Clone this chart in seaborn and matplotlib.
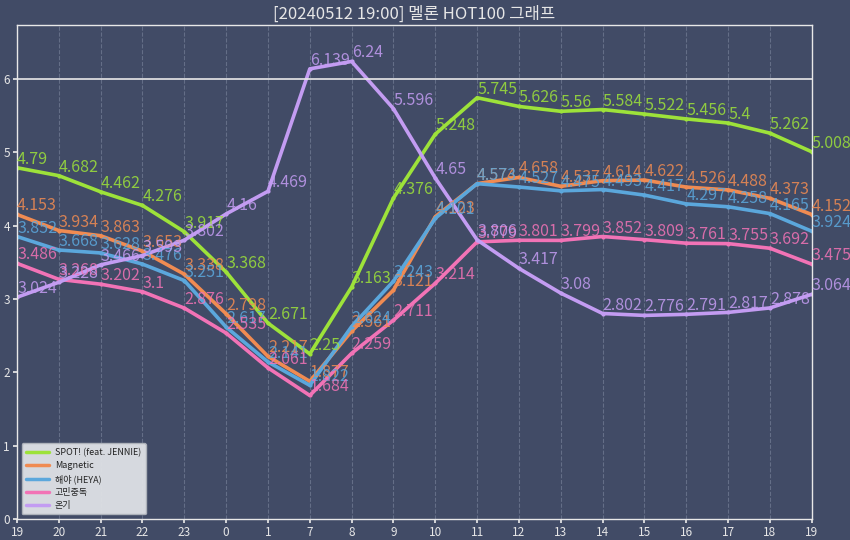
import pandas as pd
import seaborn as sns
import matplotlib
matplotlib.use('Agg')
import matplotlib.pyplot as plt

# hour labels along the x axis
hours = ['19', '20', '21', '22', '23', '0', '1', '7', '8', '9',
         '10', '11', '12', '13', '14', '15', '16', '17', '18', '19']

songs = ['SPOT! (feat. JENNIE)', 'Magnetic', '해야 (HEYA)', '고민중독', '온기']

spot = [4.79, 4.682, 4.462, 4.276, 3.917, 3.368, 2.671, 2.25, 3.163, 4.376,
        5.248, 5.745, 5.626, 5.56, 5.584, 5.522, 5.456, 5.4, 5.262, 5.008]
magnetic = [4.153, 3.934, 3.863, 3.653, 3.338, 2.798, 2.217, 1.877, 2.561, 3.121,
            4.123, 4.574, 4.658, 4.537, 4.614, 4.622, 4.526, 4.488, 4.373, 4.152]
heya = [3.852, 3.668, 3.628, 3.476, 3.251, 2.617, 2.141, 1.822, 2.624, 3.243,
        4.101, 4.573, 4.527, 4.475, 4.493, 4.417, 4.297, 4.258, 4.165, 3.924]
gomin = [3.486, 3.268, 3.202, 3.1, 2.876, 2.535, 2.061, 1.684, 2.259, 2.711,
         3.214, 3.779, 3.801, 3.799, 3.852, 3.809, 3.761, 3.755, 3.692, 3.475]
ongi = [3.024, 3.228, 3.466, 3.593, 3.802, 4.16, 4.469, 6.139, 6.24, 5.596,
        4.65, 3.806, 3.417, 3.08, 2.802, 2.776, 2.791, 2.817, 2.878, 3.064]

colors = ['#9de23a', '#f08b52', '#5ba7dc', '#f273b6', '#c39cf2']
bg = '#414b66'


def build_frame():
    rows = []
    for name, vals in zip(songs, [spot, magnetic, heya, gomin, ongi]):
        for i, v in enumerate(vals):
            rows.append({'idx': i, 'score': v, 'song': name})
    return pd.DataFrame(rows)


def main():
    df = build_frame()
    sns.set_theme(style='dark')
    plt.rcParams['font.family'] = ['Noto Sans CJK KR', 'DejaVu Sans']

    fig, ax = plt.subplots(figsize=(8.5, 5.4), dpi=100)
    fig.patch.set_facecolor(bg)
    ax.set_facecolor(bg)
    fig.subplots_adjust(left=0.02, right=0.955, bottom=0.039, top=0.954)

    sns.lineplot(data=df, x='idx', y='score', hue='song', palette=colors,
                 linewidth=2.6, marker='o', markersize=3, markeredgewidth=0,
                 ax=ax)

    # value labels next to every point
    for name, col in zip(songs, colors):
        sub = df[df['song'] == name]
        for _, r in sub.iterrows():
            ax.text(r['idx'], r['score'], f"{r['score']:g}", color=col,
                    alpha=0.85, fontsize=11.5, ha='left', va='bottom')

    ax.axhline(6, color='#e8e8e8', linewidth=1.2)
    ax.set_xlim(0, len(hours) - 1)
    ax.set_ylim(0, max(ongi) * 1.08)
    ax.set_xticks(range(len(hours)))
    ax.set_xticklabels(hours)
    ax.set_yticks(range(7))
    ax.tick_params(colors='#e6e6e6', labelsize=8.5, length=3, pad=2,
                   bottom=True, left=True)
    ax.grid(axis='x', color='#7d879e', linestyle='--', linewidth=0.8, alpha=0.6)
    ax.grid(axis='y', visible=False)
    for sp in ax.spines.values():
        sp.set_color('#e8e8e8')
        sp.set_linewidth(1.0)

    ax.set_xlabel('')
    ax.set_ylabel('')
    ax.set_title('[20240512 19:00] 멜론 HOT100 그래프', color='#e6e6e6',
                 fontsize=12, pad=4)

    leg = ax.legend(loc='lower left', fontsize=6.5, frameon=True,
                    facecolor='#dfe2e6', edgecolor='#b0b4bc', framealpha=0.95,
                    handlelength=2.5, borderpad=0.5, labelspacing=0.45,
                    handletextpad=0.7)
    for h in leg.get_lines():
        h.set_linewidth(2.5)
        h.set_marker('')
    for t in leg.get_texts():
        t.set_color('#222222')

    plt.savefig('out.png', facecolor=bg)
    plt.close()


if __name__ == '__main__':
    main()
